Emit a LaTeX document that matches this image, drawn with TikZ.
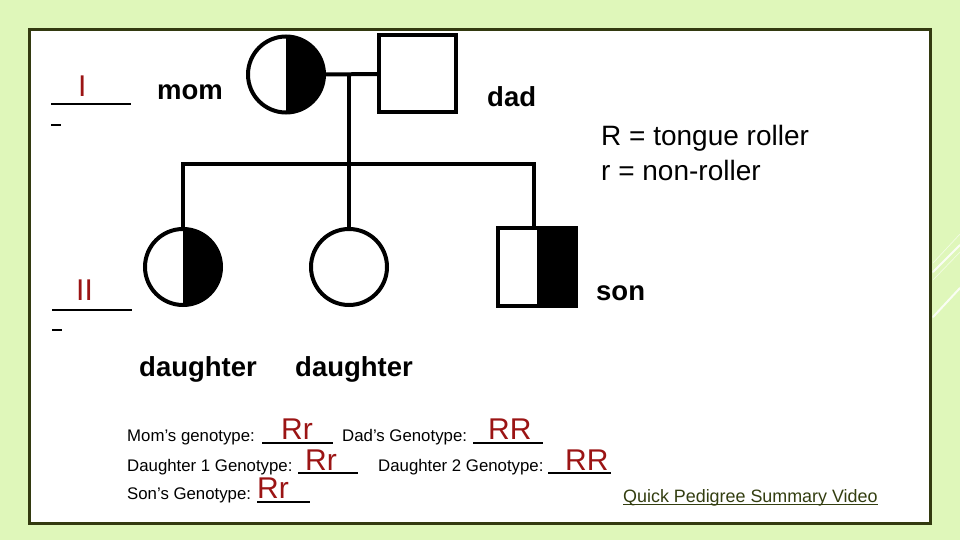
\documentclass[tikz,border=0pt]{standalone}
\usepackage{fontspec}
\setmainfont{Liberation Sans}
\usetikzlibrary{calc}
\definecolor{bgc}{RGB}{223,247,186}
\definecolor{framec}{RGB}{51,58,16}
\definecolor{ansc}{RGB}{155,20,20}
\definecolor{linkc}{RGB}{51,62,16}
\tikzset{
  fem/.style={circle, draw=black, line width=4pt, minimum size=76pt, inner sep=0pt, fill=white},
  mal/.style={rectangle, draw=black, line width=4pt, minimum size=78pt, inner sep=0pt, fill=white},
  halfblack/.style={path picture={\fill[black] (path picture bounding box.north) rectangle (path picture bounding box.south east);}},
  kin/.style={draw=black, line width=4pt, line cap=rect, line join=miter},
  biglbl/.style={anchor=base west, inner sep=0pt, font=\fontsize{27.5}{30}\selectfont\bfseries},
  keytxt/.style={anchor=base west, inner sep=0pt, font=\fontsize{28}{30}\selectfont},
  gentxt/.style={anchor=base west, inner sep=0pt, font=\fontsize{16.8}{18}\selectfont},
  anstxt/.style={anchor=base west, inner sep=0pt, text=ansc, font=\fontsize{30}{32}\selectfont},
  blank/.style={draw=black, line width=2pt},
  deco/.style={draw=white, line cap=round}
}
\begin{document}
\begin{tikzpicture}[x=1pt,y=-1pt]
\useasboundingbox (0,0) rectangle (960,540);
\fill[bgc] (0,0) rectangle (960,540);
% faint decorations at right edge
\draw[deco, line width=2pt, opacity=.85] (933,272) -- (960,245);
\draw[deco, line width=.7pt, opacity=.6] (933,263) -- (960,234);
\draw[deco, line width=.7pt, opacity=.6] (933,280) -- (960,252);
\draw[deco, line width=2pt, opacity=.85] (933,317) -- (960,288);
% frame
\draw[framec, line width=3pt, fill=white] (29.5,29.5) rectangle (930.5,523.5);

% pedigree individuals
\node[fem, halfblack] (mom) at (286,74.5) {};
\node[mal, minimum size=77pt] (dad) at (417.5,74) {};
\node[fem, halfblack] (d1) at (183,267) {};
\node[fem] (d2) at (349,267) {};
\node[mal, halfblack] (son) at (537,266.5) {};

% connectors
\coordinate (mar) at (348.5,75);
\coordinate (sib) at (348.5,164);
\coordinate (sibR) at (534,164);
\draw[kin] (mom.east) -- (dad.west);
\draw[kin] (mar) -- (sib);
\draw[kin] (d1.north) |- (sibR);
\draw[kin] (sib) -- (sib |- d2.north);
\draw[kin] (sibR) -- (sibR |- son.north);

% generation labels
\node[anstxt] (gI) at (78,97) {I};
\draw[blank, line width=2.2pt] (51,104) -- (131,104);
\draw[blank, line width=2.8pt] (51,125) -- (61,125);
\node[anstxt] (gII) at (76,300) {II};
\draw[blank, line width=2.2pt] (52,310) -- (132,310);
\draw[blank, line width=2.8pt] (52,330) -- (62,330);

% names
\node[biglbl] (lmom) at (157,100) {mom};
\node[biglbl] (ldad) at (487,107) {dad};
\node[biglbl] (lson) at (596,300) {son};
\node[biglbl] (ld1) at (139,376) {daughter};
\node[biglbl] (ld2) at (295,376) {daughter};

% key
\node[keytxt] (k1) at (601,146) {R = tongue roller};
\node[keytxt] (k2) at (601,180) {r = non-roller};

% genotypes
\node[gentxt] (g1) at (127,441) {Mom’s genotype:};
\draw[blank] (262,443) -- (333,443);
\node[anstxt] (a1) at (281,439) {Rr};
\node[gentxt] (g2) at (342,441) {Dad’s Genotype:};
\draw[blank] (473,443) -- (543,443);
\node[anstxt] (a2) at (488,439) {RR};

\node[gentxt] (g3) at (127,471) {Daughter 1 Genotype:};
\draw[blank] (298,473) -- (358,473);
\node[anstxt] (a3) at (305,470) {Rr};
\node[gentxt] (g4) at (378,471) {Daughter 2 Genotype:};
\draw[blank] (548,473) -- (611,473);
\node[anstxt] (a4) at (565,470) {RR};

\node[gentxt] (g5) at (127,499) {Son’s Genotype:};
\draw[blank] (257,502) -- (310,502);
\node[anstxt] (a5) at (257,498) {Rr};

% link
\node[anchor=base west, inner sep=0pt, text=linkc, font=\fontsize{17.9}{20}\selectfont] (lnk) at (623,502) {Quick Pedigree Summary Video};
\draw[linkc, line width=1.5pt] (lnk.base west) ++(0,2.5) -- ($(lnk.base east)+(0,2.5)$);
\end{tikzpicture}
\end{document}
